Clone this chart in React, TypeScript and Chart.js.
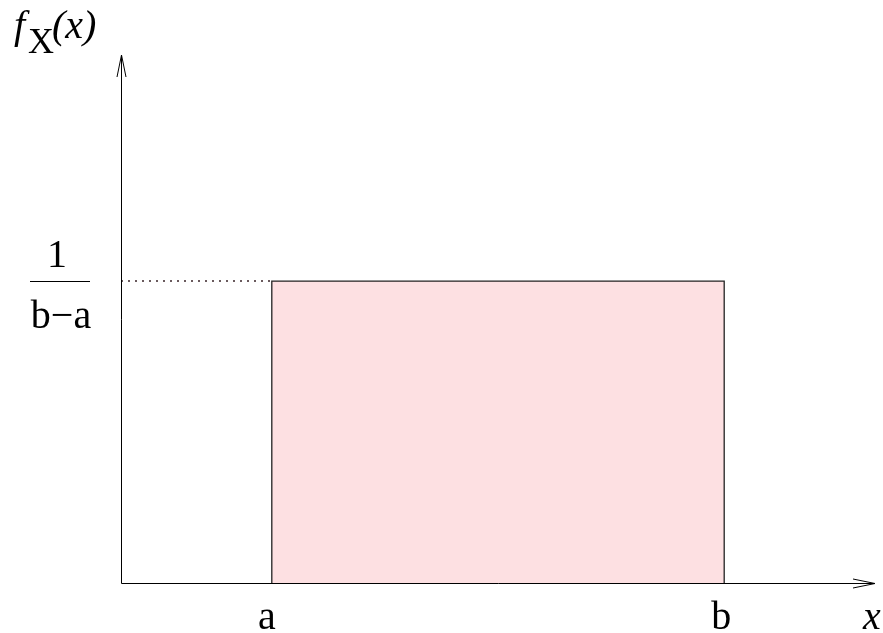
import React, { useEffect, useRef } from "react";
import { Chart, registerables } from "chart.js";

Chart.register(...registerables);

// Distribution parameters (uniform on [a, b])
const lowerBound = 1; // a
const upperBound = 4; // b
const density = 1 / (upperBound - lowerBound);

// Axis extents
const xAxisMax = 5;
const yAxisMax = 0.583;

// PDF outline (rectangle) points
const pdfX = [lowerBound, lowerBound, upperBound, upperBound];
const pdfY = [0, density, density, 0];

// Dotted reference line from the y axis to the top of the rectangle
const refX = [0, lowerBound];
const refY = [density, density];

// Tick labels on the x axis
const xTickValues = [lowerBound, upperBound];
const xTickLabels = ["a", "b"];

const SERIF = '"Liberation Serif"';

const annotatePlugin = {
  id: "annotate",
  afterDatasetsDraw(chart: any) {
    const ctx = chart.ctx as CanvasRenderingContext2D;
    const xs = chart.scales.x;
    const ys = chart.scales.y;
    const x0 = Math.round(xs.getPixelForValue(0)) + 0.5;
    const y0 = Math.round(ys.getPixelForValue(0)) + 0.5;
    const xEnd = xs.getPixelForValue(xAxisMax);
    const yEnd = ys.getPixelForValue(yAxisMax);

    ctx.save();
    ctx.setLineDash([]);
    ctx.strokeStyle = "#000";
    ctx.lineWidth = 1;
    ctx.beginPath();
    ctx.moveTo(x0, y0);
    ctx.lineTo(xEnd, y0);
    ctx.stroke();
    ctx.beginPath();
    ctx.moveTo(xEnd - 22, y0 - 4.5);
    ctx.lineTo(xEnd, y0);
    ctx.lineTo(xEnd - 22, y0 + 4.5);
    ctx.stroke();
    ctx.beginPath();
    ctx.moveTo(x0, y0);
    ctx.lineTo(x0, yEnd);
    ctx.stroke();
    ctx.beginPath();
    ctx.moveTo(x0 - 4.5, yEnd + 22);
    ctx.lineTo(x0, yEnd);
    ctx.lineTo(x0 + 4.5, yEnd + 22);
    ctx.stroke();

    ctx.fillStyle = "#000";
    ctx.font = `40px ${SERIF}`;
    ctx.textAlign = "center";
    ctx.textBaseline = "alphabetic";
    xTickValues.forEach((v, i) => {
      const px = xs.getPixelForValue(v);
      ctx.fillText(xTickLabels[i], px - (i === 0 ? 5 : 3), y0 + 45);
    });
    ctx.font = `italic 40px ${SERIF}`;
    ctx.fillText("x", xEnd - 3, y0 + 45);

    const hy = Math.round(ys.getPixelForValue(density)) + 0.5;
    const fracCenter = 60;
    ctx.font = `40px ${SERIF}`;
    ctx.fillText("1", fracCenter - 3, hy - 15);
    ctx.fillText("b\u2212a", fracCenter + 1, hy + 46);
    ctx.beginPath();
    ctx.moveTo(30, hy);
    ctx.lineTo(90, hy);
    ctx.stroke();

    ctx.textAlign = "left";
    ctx.font = `italic 40px ${SERIF}`;
    ctx.fillText("f", 14, 38);
    ctx.font = `36px ${SERIF}`;
    ctx.fillText("X", 28, 53);
    ctx.font = `italic 40px ${SERIF}`;
    ctx.fillText("(x)", 52, 38);
    ctx.restore();
  },
};

export default function App() {
  const canvasRef = useRef<HTMLCanvasElement | null>(null);

  useEffect(() => {
    if (!canvasRef.current) return;
    const chart = new Chart(canvasRef.current, {
      type: "scatter",
      data: {
        datasets: [
          {
            label: "pdf",
            data: pdfX.map((x, i) => ({ x, y: pdfY[i] })),
            showLine: true,
            fill: "origin",
            backgroundColor: "#fde0e2",
            borderColor: "#222222",
            borderWidth: 1.3,
            pointRadius: 0,
            tension: 0,
            clip: false,
          } as any,
          {
            label: "ref",
            data: refX.map((x, i) => ({ x, y: refY[i] })),
            showLine: true,
            fill: false,
            borderColor: "#3a2528",
            borderWidth: 1.5,
            borderDash: [2, 5],
            pointRadius: 0,
            clip: false,
          } as any,
        ],
      },
      options: {
        animation: false,
        responsive: true,
        maintainAspectRatio: false,
        font: { family: '"Liberation Serif"' },
        layout: { padding: { left: 121, right: 8, top: 55, bottom: 50 } },
        plugins: { legend: { display: false }, tooltip: { enabled: false } },
        scales: {
          x: { type: "linear", min: 0, max: xAxisMax, display: false },
          y: { type: "linear", min: 0, max: yAxisMax, display: false },
        },
      } as any,
      plugins: [annotatePlugin],
    });
    return () => chart.destroy();
  }, []);

  return (
    <div style={{ position: "fixed", left: 0, top: 0, width: 883, height: 633, background: "#fff" }}>
      <canvas ref={canvasRef} />
    </div>
  );
}
